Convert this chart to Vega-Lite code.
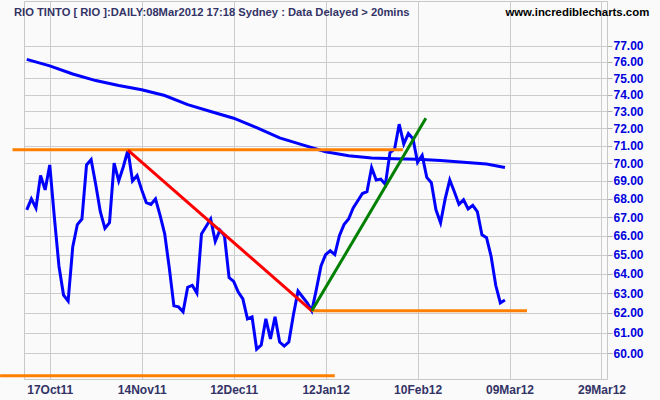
{
  "$schema": "https://vega.github.io/schema/vega-lite/v6.json",
  "width": 583,
  "height": 378,
  "autosize": "none",
  "padding": {"left": 24, "top": 1, "right": 53, "bottom": 21},
  "background": "#fafafa",
  "config": {
    "view": {"stroke": "#c8c8c8", "fill": "#fafafa"},
    "font": "Liberation Sans"
  },
  "title": {
    "text": "RIO TINTO [ RIO ]:DAILY:08Mar2012 17:18 Sydney : Data Delayed > 20mins",
    "anchor": "start",
    "frame": "group",
    "dx": -10,
    "offset": -17,
    "font": "Liberation Sans",
    "fontSize": 11.2,
    "fontWeight": "bold",
    "color": "#333366"
  },
  "datasets": {
    "price": [
      {"day": -5, "close": 67.4}, {"day": -4, "close": 68.0}, {"day": -3, "close": 67.5}, {"day": -2, "close": 69.3}, {"day": -1, "close": 68.5},
      {"day": 0, "close": 69.9}, {"day": 1, "close": 67.0}, {"day": 2, "close": 64.4}, {"day": 3, "close": 62.9}, {"day": 4, "close": 62.6},
      {"day": 5, "close": 65.4}, {"day": 6, "close": 66.6}, {"day": 7, "close": 66.9}, {"day": 8, "close": 69.9}, {"day": 9, "close": 70.2},
      {"day": 10, "close": 68.8}, {"day": 11, "close": 67.3}, {"day": 12, "close": 66.4}, {"day": 13, "close": 66.7}, {"day": 14, "close": 70.0},
      {"day": 15, "close": 69.0}, {"day": 16, "close": 69.8}, {"day": 17, "close": 70.75}, {"day": 18, "close": 69.0}, {"day": 19, "close": 69.3},
      {"day": 20, "close": 68.5}, {"day": 21, "close": 67.8}, {"day": 22, "close": 67.7}, {"day": 23, "close": 68.0}, {"day": 24, "close": 67.1},
      {"day": 25, "close": 66.1}, {"day": 26, "close": 64.3}, {"day": 27, "close": 62.35}, {"day": 28, "close": 62.3}, {"day": 29, "close": 62.05},
      {"day": 30, "close": 63.3}, {"day": 31, "close": 63.4}, {"day": 32, "close": 63.0}, {"day": 33, "close": 66.1}, {"day": 34, "close": 66.5},
      {"day": 35, "close": 66.9}, {"day": 36, "close": 65.7}, {"day": 37, "close": 66.3}, {"day": 38, "close": 66.0}, {"day": 39, "close": 63.8},
      {"day": 40, "close": 63.6}, {"day": 41, "close": 63.05}, {"day": 42, "close": 62.7}, {"day": 43, "close": 61.7}, {"day": 44, "close": 61.8},
      {"day": 45, "close": 60.2}, {"day": 46, "close": 60.4}, {"day": 47, "close": 61.7}, {"day": 48, "close": 60.7}, {"day": 49, "close": 61.8},
      {"day": 50, "close": 60.55}, {"day": 51, "close": 60.35}, {"day": 52, "close": 60.55}, {"day": 53, "close": 61.9}, {"day": 54, "close": 63.1},
      {"day": 55, "close": 62.8}, {"day": 56, "close": 62.5}, {"day": 57, "close": 62.1}, {"day": 58, "close": 63.2}, {"day": 59, "close": 64.4},
      {"day": 60, "close": 65.0}, {"day": 61, "close": 65.2}, {"day": 62, "close": 65.0}, {"day": 63, "close": 66.0}, {"day": 64, "close": 66.6},
      {"day": 65, "close": 66.9}, {"day": 66, "close": 67.5}, {"day": 67, "close": 67.9}, {"day": 68, "close": 68.3}, {"day": 69, "close": 68.4},
      {"day": 70, "close": 69.75}, {"day": 71, "close": 69.05}, {"day": 72, "close": 69.1}, {"day": 73, "close": 68.8}, {"day": 74, "close": 70.6},
      {"day": 75, "close": 70.8}, {"day": 76, "close": 72.25}, {"day": 77, "close": 71.1}, {"day": 78, "close": 71.7}, {"day": 79, "close": 71.4},
      {"day": 80, "close": 70.05}, {"day": 81, "close": 70.45}, {"day": 82, "close": 69.2}, {"day": 83, "close": 68.9}, {"day": 84, "close": 67.4},
      {"day": 85, "close": 66.7}, {"day": 86, "close": 68.0}, {"day": 87, "close": 69.05}, {"day": 88, "close": 68.4}, {"day": 89, "close": 67.7},
      {"day": 90, "close": 67.95}, {"day": 91, "close": 67.45}, {"day": 92, "close": 67.65}, {"day": 93, "close": 67.3}, {"day": 94, "close": 66.05},
      {"day": 95, "close": 65.9}, {"day": 96, "close": 64.9}, {"day": 97, "close": 63.4}, {"day": 98, "close": 62.5}, {"day": 99, "close": 62.65}
    ],
    "ma": [
      {"day": -5, "ma": 76.15}, {"day": 0, "ma": 75.75}, {"day": 5, "ma": 75.25}, {"day": 10, "ma": 74.85}, {"day": 15, "ma": 74.55},
      {"day": 20, "ma": 74.3}, {"day": 25, "ma": 73.95}, {"day": 30, "ma": 73.4}, {"day": 35, "ma": 73.0}, {"day": 40, "ma": 72.6},
      {"day": 45, "ma": 72.05}, {"day": 50, "ma": 71.45}, {"day": 55, "ma": 71.05}, {"day": 60, "ma": 70.65}, {"day": 65, "ma": 70.42},
      {"day": 70, "ma": 70.3}, {"day": 75, "ma": 70.25}, {"day": 80, "ma": 70.22}, {"day": 85, "ma": 70.15}, {"day": 90, "ma": 70.05},
      {"day": 95, "ma": 69.95}, {"day": 99, "ma": 69.75}
    ],
    "lines": [
      {"name": "resistance", "x1": -8.1, "y1": 70.76, "x2": 76.8, "y2": 70.76},
      {"name": "support", "x1": 57, "y1": 62.1, "x2": 103.8, "y2": 62.1},
      {"name": "low", "x1": -10.8, "y1": 58.92, "x2": 62, "y2": 58.92},
      {"name": "downtrend", "x1": 17, "y1": 70.75, "x2": 57, "y2": 62.1},
      {"name": "uptrend", "x1": 57, "y1": 62.1, "x2": 81.8, "y2": 72.6}
    ]
  },
  "layer": [
    {
      "data": {"name": "price"},
      "mark": {"type": "line", "color": "#0000ff", "strokeWidth": 3},
      "encoding": {
        "x": {
          "field": "day", "type": "quantitative",
          "scale": {"domain": [-5.6, 121.2], "nice": false, "zero": false},
          "axis": {
            "title": null,
            "values": [0, 20, 40, 60, 80, 100, 120],
            "labelExpr": "['17Oct11','14Nov11','12Dec11','12Jan12','10Feb12','09Mar12','29Mar12'][round(datum.value/20)]",
            "grid": true, "gridColor": "#cccccc", "gridWidth": 1,
            "ticks": false, "domain": false,
            "labelPadding": 5, "labelFontSize": 12, "labelFontWeight": "bold",
            "labelColor": "#333366", "labelFont": "Liberation Sans"
          }
        },
        "y": {
          "field": "close", "type": "quantitative",
          "scale": {"type": "log", "domain": [58.76, 79.84], "nice": false, "zero": false},
          "axis": {
            "title": null, "orient": "right",
            "values": [60, 61, 62, 63, 64, 65, 66, 67, 68, 69, 70, 71, 72, 73, 74, 75, 76, 77],
            "format": ".2f",
            "grid": true, "gridColor": "#cccccc", "gridWidth": 1,
            "ticks": true, "tickColor": "#b0b0b0", "tickSize": 5,
            "domain": false, "labelPadding": 1,
            "labelFontSize": 12, "labelFontWeight": "bold",
            "labelColor": "#0000dd", "labelFont": "Liberation Sans"
          }
        }
      }
    },
    {
      "data": {"name": "ma"},
      "mark": {"type": "line", "color": "#0000ff", "strokeWidth": 3},
      "encoding": {
        "x": {"field": "day", "type": "quantitative"},
        "y": {"field": "ma", "type": "quantitative"}
      }
    },
    {
      "data": {"name": "lines"},
      "mark": {"type": "rule", "strokeWidth": 3, "clip": false},
      "encoding": {
        "x": {"field": "x1", "type": "quantitative"},
        "x2": {"field": "x2"},
        "y": {"field": "y1", "type": "quantitative"},
        "y2": {"field": "y2"},
        "color": {
          "field": "name", "type": "nominal",
          "scale": {"domain": ["resistance", "support", "low", "downtrend", "uptrend"], "range": ["#ff8000", "#ff8000", "#ff8000", "#ff0000", "#008000"]},
          "legend": null
        }
      }
    },
    {
      "data": {"values": [{"label": "www.incrediblecharts.com"}]},
      "mark": {"type": "text", "align": "right", "baseline": "alphabetic", "font": "Liberation Sans", "fontSize": 11.4, "fontWeight": "bold", "color": "#000000", "clip": false},
      "encoding": {
        "x": {"datum": 130.4, "type": "quantitative"},
        "y": {"datum": 78.9, "type": "quantitative"},
        "text": {"field": "label"}
      }
    }
  ]
}
